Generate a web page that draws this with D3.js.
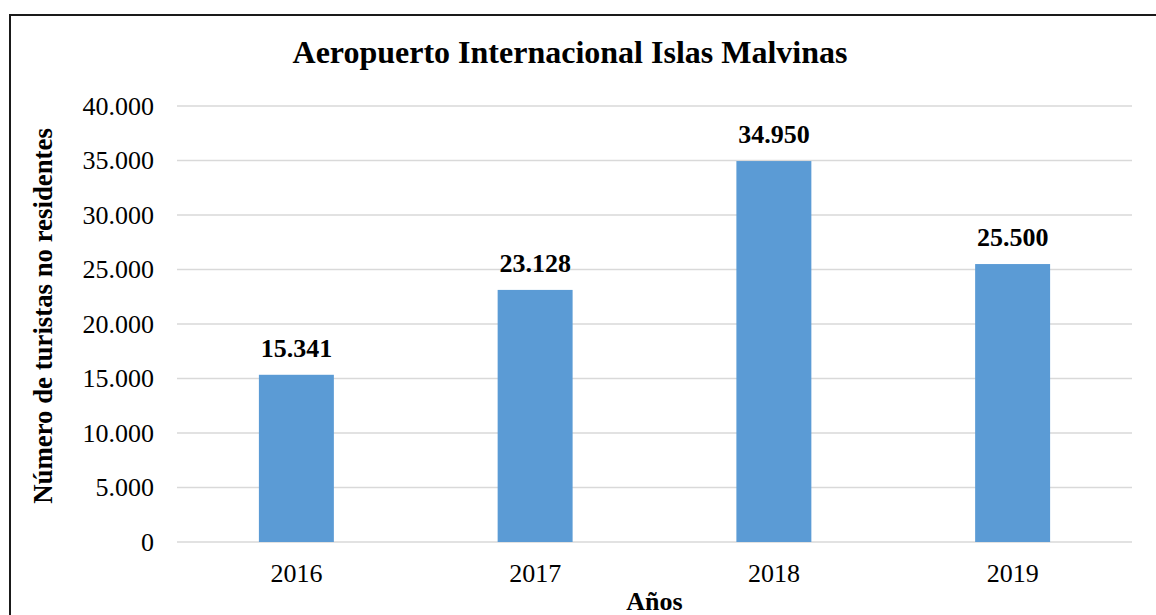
<!DOCTYPE html>
<html>
<head>
<meta charset="utf-8">
<script src="https://cdn.jsdelivr.net/npm/d3@7"></script>
<style>
  body { margin: 0; background: #fff; }
  svg text { font-family: "Liberation Serif", "Times New Roman", serif; }
</style>
</head>
<body>
<div id="chart"></div>
<script>
var years = ["2016", "2017", "2018", "2019"];
var tourists = [15341, 23128, 34950, 25500];
var yTicks = [0, 5000, 10000, 15000, 20000, 25000, 30000, 35000, 40000];

var width = 1156,
    height = 615;

var serif = "Liberation Serif";
var margin = {top: 106, right: 24, bottom: 73, left: 177};

// numbers like 34.950 (dot as thousands separator)
var fmt = function(d) {
  return d3.format(",")(d).replace(/,/g, ".");
};

var svg = d3.select("#chart").append("svg")
    .attr("width", width)
    .attr("height", height)
    .style("display", "block");

// frame (only left and top visible in the picture)
svg.append("rect")
    .attr("x", 10)
    .attr("y", 15)
    .attr("width", width + 20)
    .attr("height", height + 20)
    .attr("fill", "none")
    .attr("stroke", "#1a1a1a")
    .attr("stroke-width", 2);

var x = d3.scaleBand()
    .domain(years)
    .range([margin.left, width - margin.right])
    .paddingInner(0.686)
    .paddingOuter(0.343);

var y = d3.scaleLinear()
    .domain([0, 40000])
    .range([height - margin.bottom, margin.top]);

// gridlines
svg.append("g")
    .selectAll("line")
    .data(yTicks)
    .enter().append("line")
    .attr("x1", margin.left)
    .attr("x2", width - margin.right)
    .attr("y1", function(d) { return y(d); })
    .attr("y2", function(d) { return y(d); })
    .attr("stroke", "#d9d9d9")
    .attr("stroke-width", 1.5);

// y axis labels
var yAxis = d3.axisLeft(y)
    .tickValues(yTicks)
    .tickFormat(fmt)
    .tickSize(0)
    .tickPadding(23);

svg.append("g")
    .attr("transform", "translate(" + margin.left + ",0)")
    .call(yAxis)
    .attr("font-family", serif)
    .call(function(g) { g.select(".domain").remove(); })
    .selectAll("text")
    .attr("font-family", serif)
    .attr("font-size", 26)
    .attr("fill", "#000");

// x axis labels
var xAxis = d3.axisBottom(x)
    .tickSize(0)
    .tickPadding(22);

svg.append("g")
    .attr("transform", "translate(0," + y(0) + ")")
    .call(xAxis)
    .attr("font-family", serif)
    .call(function(g) { g.select(".domain").remove(); })
    .selectAll("text")
    .attr("font-family", serif)
    .attr("font-size", 26)
    .attr("fill", "#000");

// bars
svg.selectAll(".bar")
    .data(tourists)
    .enter().append("rect")
    .attr("class", "bar")
    .attr("x", function(d, i) { return x(years[i]); })
    .attr("width", x.bandwidth())
    .attr("y", function(d) { return y(d); })
    .attr("height", function(d) { return y(0) - y(d); })
    .attr("fill", "#5b9bd5");

// value labels
svg.selectAll(".val")
    .data(tourists)
    .enter().append("text")
    .attr("class", "val")
    .attr("x", function(d, i) { return x(years[i]) + x.bandwidth() / 2; })
    .attr("y", function(d) { return y(d) - 18; })
    .attr("text-anchor", "middle")
    .attr("font-family", serif)
    .attr("font-size", 26)
    .attr("font-weight", "bold")
    .text(fmt);

// title
svg.append("text")
    .attr("x", 570)
    .attr("y", 63)
    .attr("text-anchor", "middle")
    .attr("font-family", serif)
    .attr("font-size", 32)
    .attr("font-weight", "bold")
    .text("Aeropuerto Internacional Islas Malvinas");

// axis titles
svg.append("text")
    .attr("transform", "translate(52,316) rotate(-90)")
    .attr("text-anchor", "middle")
    .attr("font-family", serif)
    .attr("font-size", 26.8)
    .attr("font-weight", "bold")
    .text("Número de turistas no residentes");

svg.append("text")
    .attr("x", (margin.left + width - margin.right) / 2)
    .attr("y", 610)
    .attr("text-anchor", "middle")
    .attr("font-family", serif)
    .attr("font-size", 26)
    .attr("font-weight", "bold")
    .text("Años");
</script>
</body>
</html>
